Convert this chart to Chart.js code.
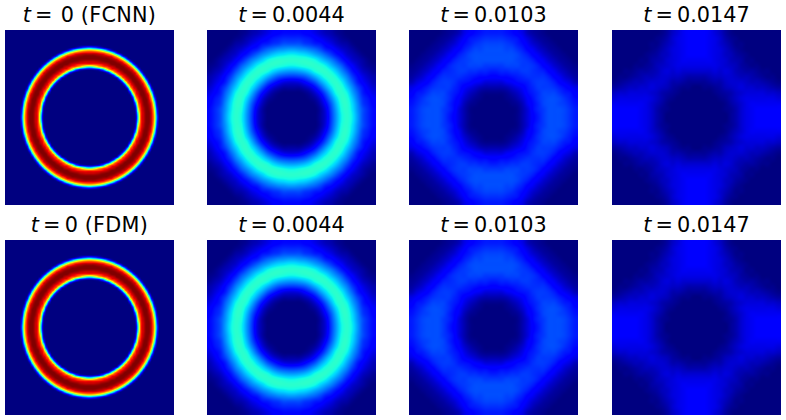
<!DOCTYPE html>
<html><head><meta charset="utf-8">
<script src="https://cdn.jsdelivr.net/npm/chart.js@4"></script>
<style>
html,body{margin:0;padding:0;background:#fff;width:786px;height:420px;overflow:hidden}
.panel{position:absolute}
.panel canvas{display:block}
.title{position:absolute;text-align:center;white-space:pre;font:20.8px "DejaVu Sans";color:#000;line-height:24px;word-spacing:-2.5px}
.title span{word-spacing:0;letter-spacing:.25px}
</style></head><body>
<script>
// Values are percent of the colour range. Each table is the
// quarter of a panel from its centre outward; the panels are mirror-symmetric.
const t0Quarter=[
[0,0,0,0,0,0,0,0,0,0,0,0,0,0,0,0,0,4,42,86,94,100,100,92,72,25],
[0,0,0,0,0,0,0,0,0,0,0,0,0,0,0,0,0,5,47,86,94,100,100,92,70,22],
[0,0,0,0,0,0,0,0,0,0,0,0,0,0,0,0,0,7,56,87,95,100,99,91,67,19],
[0,0,0,0,0,0,0,0,0,0,0,0,0,0,0,0,0,10,66,88,96,100,98,89,62,14],
[0,0,0,0,0,0,0,0,0,0,0,0,0,0,0,0,0,19,73,90,98,100,97,87,55,9],
[0,0,0,0,0,0,0,0,0,0,0,0,0,0,0,0,2,32,81,92,99,100,95,83,45,5],
[0,0,0,0,0,0,0,0,0,0,0,0,0,0,0,0,8,56,85,94,100,100,93,75,32,2],
[0,0,0,0,0,0,0,0,0,0,0,0,0,0,0,0,21,73,90,97,100,98,90,66,19],
[0,0,0,0,0,0,0,0,0,0,0,0,0,0,0,7,47,85,93,100,100,96,86,51,8],
[0,0,0,0,0,0,0,0,0,0,0,0,0,0,2,25,73,89,96,100,99,92,74,32,3],
[0,0,0,0,0,0,0,0,0,0,0,0,0,0,11,60,86,93,100,100,96,87,59,14],
[0,0,0,0,0,0,0,0,0,0,0,0,0,8,42,81,91,98,100,99,92,75,37,4],
[0,0,0,0,0,0,0,0,0,0,0,0,7,35,76,89,96,100,100,95,86,57,14],
[0,0,0,0,0,0,0,0,0,0,0,8,35,75,88,94,100,100,97,90,70,31,3],
[0,0,0,0,0,0,0,0,0,2,11,42,76,88,94,99,100,98,92,78,45,8],
[0,0,0,0,0,0,0,0,7,25,60,81,89,94,99,100,99,93,83,55,16],
[0,0,0,0,0,2,8,21,47,73,86,91,96,100,100,99,94,86,61,22,2],
[4,5,7,10,19,32,56,73,85,89,93,98,100,100,98,93,86,62,27,4],
[42,47,56,66,73,81,85,90,93,96,100,100,100,97,92,83,61,27,4],
[86,86,87,88,90,92,94,97,100,100,100,99,95,90,78,55,22,4],
[94,94,95,96,98,99,100,100,100,99,96,92,86,70,45,16,2],
[100,100,100,100,100,100,100,98,96,92,87,75,57,31,8],
[100,100,99,98,97,95,93,90,86,74,59,37,14,3],
[92,92,91,89,87,83,75,66,51,32,14,4],
[72,70,67,62,55,45,32,19,8,3],
[25,22,19,14,9,5,2],
[],[],[],[],[],[]];
const t0044Quarter=[
[0,0,0,0,0,3,8,18,28,37,40,36,28,20,16,13],
[0,0,0,0,0,3,9,19,29,38,40,35,27,20,16,13],
[0,0,0,0,1,5,12,21,31,39,40,34,26,18,15,12],
[0,0,0,1,3,8,16,25,34,40,39,32,24,17,14,11],
[0,0,1,3,7,13,21,30,38,40,37,29,22,15,12,9],
[3,3,5,8,13,20,28,35,40,39,33,26,19,14,10,7],
[8,9,12,16,21,28,34,39,40,36,29,22,15,11,8,5],
[18,19,21,25,30,35,39,40,37,31,25,18,13,9,6,4],
[28,29,31,34,38,40,40,37,32,26,20,14,10,6,4,2],
[37,38,39,40,40,39,36,31,26,21,15,11,7,4,2,1],
[40,40,40,39,37,33,29,25,20,15,11,7,5,3,1,0],
[36,35,34,32,29,26,22,18,14,11,7,5,3,1,0,0],
[28,27,26,24,22,19,15,13,10,7,5,3,1,0,0,0],
[20,20,18,17,15,14,11,9,6,4,3,1,0,0,0,0],
[16,16,15,14,12,10,8,6,4,2,1,0,0,0,0,0],
[13,13,12,11,9,7,5,4,2,1,0,0,0,0,0,0]];
const t0103Quarter=[
[0,0,0,0,1,4,8,12,15,18,20,20,20,19,17,15],
[0,0,0,0,1,4,8,13,16,18,20,20,20,19,17,15],
[0,0,0,1,2,5,10,13,16,19,20,20,19,18,16,14],
[0,0,1,2,4,7,11,14,17,19,20,20,19,17,15,13],
[1,1,2,4,6,9,13,15,17,19,19,19,17,15,14,11],
[4,4,5,7,9,11,14,16,18,18,18,17,15,13,11,9],
[8,8,10,11,13,14,15,17,18,18,17,15,12,10,8,5],
[12,13,13,14,15,16,17,17,17,17,15,12,10,7,5,3],
[15,16,16,17,17,18,18,17,16,15,12,10,7,5,3,2],
[18,18,19,19,19,18,18,17,15,12,10,7,5,3,2,1],
[20,20,20,20,19,18,17,15,12,10,7,5,3,2,1,0],
[20,20,20,20,19,17,15,12,10,7,5,3,2,1,0,0],
[20,20,19,19,17,15,12,10,7,5,3,2,1,0,0,0],
[19,19,18,17,15,13,10,7,5,3,2,1,0,0,0,0],
[17,17,16,15,14,11,8,5,3,2,1,0,0,0,0,0],
[15,15,14,13,11,9,5,3,2,1,0,0,0,0,0,0]];
const t0147Quarter=[
[0,0,0,0,0,0,2,4,7,9,10,11,11,11,11,11],
[0,0,0,0,0,1,2,4,7,9,10,11,11,11,11,11],
[0,0,0,0,0,1,3,5,7,9,10,10,10,10,10,10],
[0,0,0,0,1,2,4,6,8,9,9,9,9,9,9,8],
[0,0,0,1,2,3,4,6,7,8,8,8,8,7,7,6],
[0,1,1,2,3,5,6,7,8,7,7,6,6,5,4,3],
[2,2,3,4,4,6,7,7,7,6,5,5,4,3,2,1],
[4,4,5,6,6,7,7,6,5,5,4,3,2,1,1,0],
[7,7,7,8,7,8,7,5,4,3,3,2,1,1,0,0],
[9,9,9,9,8,7,6,5,3,2,1,1,0,0,0,0],
[10,10,10,9,8,7,5,4,3,1,1,0,0,0,0,0],
[11,11,10,9,8,6,5,3,2,1,0,0,0,0,0,0],
[11,11,10,9,8,6,4,2,1,0,0,0,0,0,0,0],
[11,11,10,9,7,5,3,1,1,0,0,0,0,0,0,0],
[11,11,10,9,7,4,2,1,0,0,0,0,0,0,0,0],
[11,11,10,8,6,3,1,0,0,0,0,0,0,0,0,0]];
// The FDM row reads the same as the FCNN row at this resolution.
const fcnnPanels=[t0Quarter,t0044Quarter,t0103Quarter,t0147Quarter];
const fdmPanels=[t0Quarter,t0044Quarter,t0103Quarter,t0147Quarter];
const fcnnTitles=["t =  0 (FCNN)","t = 0.0044","t = 0.0103","t = 0.0147"];
const fdmTitles=["t = 0 (FDM)","t = 0.0044","t = 0.0103","t = 0.0147"];
const panelLefts=[5,207,409,612];
const panelTops=[30,240];
const panelW=169, panelH=175, titleOffset=27;
// matplotlib "jet" colormap stops
const jetR=[[0,0],[.35,0],[.66,1],[.89,1],[1,.5]];
const jetG=[[0,0],[.125,0],[.375,1],[.64,1],[.91,0],[1,0]];
const jetB=[[0,.5],[.11,1],[.34,1],[.65,0],[1,0]];
function ramp(s,v){for(let i=1;i<s.length;i++){if(v<=s[i][0]){const a=s[i-1],b=s[i];return a[1]+(b[1]-a[1])*(v-a[0])/(b[0]-a[0]);}}return s[s.length-1][1];}
const lut=[];for(let i=0;i<=1024;i++){const v=i/1024;lut.push([ramp(jetR,v)*255,ramp(jetG,v)*255,ramp(jetB,v)*255]);}
function cells(q){const n=q.length*2,h=q.length,out=[];
  for(let r=0;r<n;r++){const dr=r<h?h-1-r:r-h;
    for(let c=0;c<n;c++){const dc=c<h?h-1-c:c-h;
      out.push({x:c+.5,y:r+.5,v:(q[dr][dc]??0)/100});}}
  return out;}
function cub(a,b,c,d,t){return b+.5*t*(c-a+t*(2*a-5*b+4*c-d+t*(3*(b-c)+d-a)));}
const heatPlugin={id:'heat',beforeDatasetsDraw(chart){
  const pts=chart.data.datasets[0].data,n=Math.round(Math.sqrt(pts.length));
  const g=new Float32Array(n*n);
  pts.forEach(p=>{g[Math.floor(p.y)*n+Math.floor(p.x)]=p.v;});
  const at=(c,r)=>g[Math.min(n-1,Math.max(0,r))*n+Math.min(n-1,Math.max(0,c))];
  const a=chart.chartArea,w=Math.round(a.right-a.left),h=Math.round(a.bottom-a.top);
  const img=chart.ctx.createImageData(w,h),sx=chart.scales.x,sy=chart.scales.y;
  for(let py=0;py<h;py++){
    const vy=sy.getValueForPixel(a.top+py+.5)-.5,r0=Math.floor(vy),ty=vy-r0;
    for(let px=0;px<w;px++){
      const vx=sx.getValueForPixel(a.left+px+.5)-.5,c0=Math.floor(vx),tx=vx-c0,col=[];
      for(let k=-1;k<=2;k++)col.push(cub(at(c0-1,r0+k),at(c0,r0+k),at(c0+1,r0+k),at(c0+2,r0+k),tx));
      const v=Math.max(0,Math.min(1,cub(col[0],col[1],col[2],col[3],ty)));
      const rgb=lut[Math.round(v*1024)],o=(py*w+px)*4;
      img.data[o]=rgb[0];img.data[o+1]=rgb[1];img.data[o+2]=rgb[2];img.data[o+3]=255;
    }}
  chart.ctx.putImageData(img,a.left,a.top);
}};
function addPanel(q,title,left,top){
  const d=document.createElement('div');d.className='panel';
  d.style.cssText=`left:${left}px;top:${top}px;width:${panelW}px;height:${panelH}px`;
  const cv=document.createElement('canvas');cv.width=panelW;cv.height=panelH;cv.style.width=panelW+'px';cv.style.height=panelH+'px';
  d.appendChild(cv);document.body.appendChild(d);
  const tl=document.createElement('div');tl.className='title';
  tl.style.cssText=`left:${left-20}px;top:${top-titleOffset}px;width:${panelW+40}px`;
  const it=document.createElement('i');it.textContent=title[0];
  tl.appendChild(it);
  const cut=title.indexOf(' (');
  if(cut<0){tl.appendChild(document.createTextNode(title.slice(1)));}
  else{tl.appendChild(document.createTextNode(title.slice(1,cut)));
    const sp=document.createElement('span');sp.textContent=title.slice(cut);tl.appendChild(sp);}
  document.body.appendChild(tl);
  const n=q.length*2;
  new Chart(cv,{type:'scatter',plugins:[heatPlugin],
    data:{datasets:[{label:title,data:cells(q),pointRadius:0,parsing:false}]},
    options:{responsive:false,animation:false,layout:{padding:0},events:[],
      plugins:{legend:{display:false},tooltip:{enabled:false},title:{display:false}},
      scales:{x:{type:'linear',min:0,max:n,display:false},y:{type:'linear',min:0,max:n,display:false,reverse:true}}}});
}
fcnnPanels.forEach((q,i)=>addPanel(q,fcnnTitles[i],panelLefts[i],panelTops[0]));
fdmPanels.forEach((q,i)=>addPanel(q,fdmTitles[i],panelLefts[i],panelTops[1]));
</script>
</body></html>
